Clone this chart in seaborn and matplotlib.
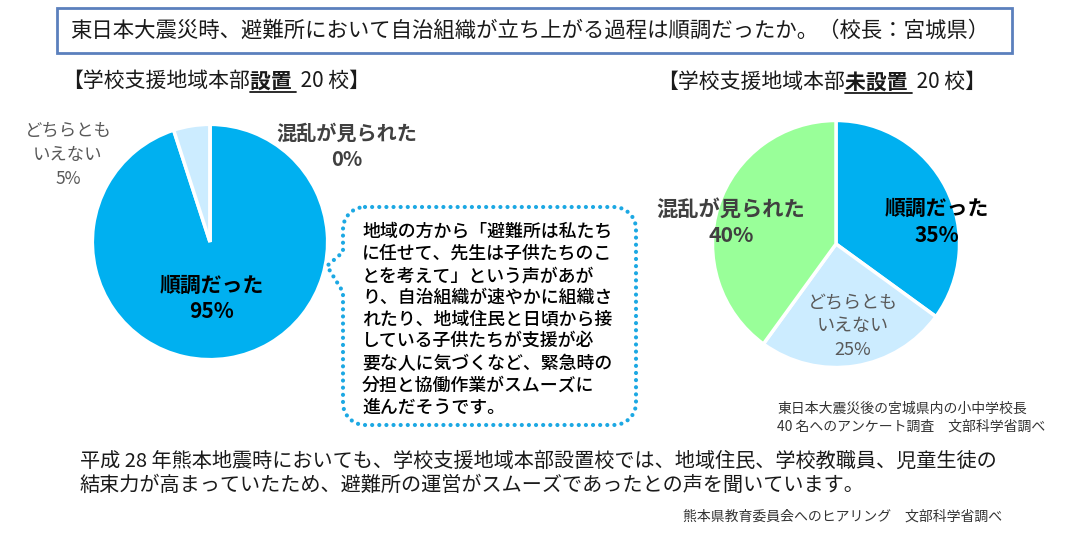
import matplotlib
matplotlib.use("Agg")
import matplotlib.pyplot as plt
import seaborn as sns
import numpy as np
from matplotlib.path import Path
from matplotlib.patches import PathPatch, Rectangle

sns.set_theme(style="white")
plt.rcParams['font.family'] = ['Noto Sans CJK JP', 'DejaVu Sans']

# ---------------- data ----------------
categories = ['順調だった', 'どちらともいえない', '混乱が見られた']
label_texts = ['順調だった', 'どちらとも\nいえない', '混乱が見られた']
set_values = [95, 5, 0]      # 学校支援地域本部 設置 20校
unset_values = [35, 25, 40]  # 学校支援地域本部 未設置 20校
colors = ['#00B0F0', '#CCECFF', '#99FF99']

title = '東日本大震災時、避難所において自治組織が立ち上がる過程は順調だったか。（校長：宮城県）'
bubble_lines = ['地域の方から「避難所は私たち',
                'に任せて、先生は子供たちのこ',
                'とを考えて」という声があが',
                'り、自治組織が速やかに組織さ',
                'れたり、地域住民と日頃から接',
                'している子供たちが支援が必',
                '要な人に気づくなど、緊急時の',
                '分担と協働作業がスムーズに',
                '進んだそうです。']
bottom_lines = ['平成 28 年熊本地震時においても、学校支援地域本部設置校では、地域住民、学校教職員、児童生徒の',
                '結束力が高まっていたため、避難所の運営がスムーズであったとの声を聞いています。']
note_right = ['東日本大震災後の宮城県内の小中学校長', '40 名へのアンケート調査　文部科学省調べ']
note_bottom = '熊本県教育委員会へのヒアリング　文部科学省調べ'

W, H = 1066, 534
fig = plt.figure(figsize=(W / 100, H / 100), dpi=100)
fig.patch.set_facecolor('white')

# overlay axes in pixel coordinates (y downwards)
ov = fig.add_axes([0, 0, 1, 1], zorder=5)
ov.set_xlim(0, W)
ov.set_ylim(H, 0)
ov.axis('off')
ov.patch.set_alpha(0)


def pie_axes(cx, cy, r):
    ax = fig.add_axes([(cx - r) / W, (H - cy - r) / H, 2 * r / W, 2 * r / H], zorder=1)
    return ax


def draw_pie(ax, values):
    ax.pie(values, colors=colors, startangle=90, counterclock=False,
           wedgeprops=dict(edgecolor='white', linewidth=2.5))
    ax.set_xlim(-1.02, 1.02)
    ax.set_ylim(-1.02, 1.02)
    ax.set_aspect('equal')
    ax.axis('off')


draw_pie(pie_axes(210, 242, 120), set_values)
draw_pie(pie_axes(836, 244, 126), unset_values)

# title box
ov.add_patch(Rectangle((57, 8), 955, 45, fill=False, edgecolor='#5B80BD', linewidth=2))
ov.text(70, 31, title, fontsize=15.4, va='center', ha='left', color='#1a1a1a')

fig.canvas.draw()
renderer = fig.canvas.get_renderer()
inv = ov.transData.inverted()


def rich(x, y, parts, size, color='#1a1a1a'):
    cur = x
    for txt, weight, ul in parts:
        t = ov.text(cur, y, txt, fontsize=size, fontweight=weight, va='center',
                    ha='left', color=color)
        bb = t.get_window_extent(renderer)
        (x0, _), (x1, _) = inv.transform([[bb.x0, bb.y0], [bb.x1, bb.y1]])
        if ul:
            ov.plot([x0, x1], [y + 11, y + 11], color=color, linewidth=1.3)
        cur = x1


rich(62, 81, [('【学校支援地域本部', 'normal', False), ('設置 ', 'bold', True),
              (' 20 校】', 'normal', False)], 15)
rich(657, 82, [('【学校支援地域本部', 'normal', False), ('未設置 ', 'bold', True),
               (' 20 校】', 'normal', False)], 15)


def lines_at(x, y0, step, lines, **kw):
    for i, ln in enumerate(lines):
        ov.text(x, y0 + i * step, ln, va='center', **kw)


# left pie labels
lines_at(212, 285, 27, [label_texts[0], f'{set_values[0]}%'], ha='center',
         fontsize=15, fontweight='bold', color='black')
lines_at(68, 131, 24, label_texts[1].split('\n') + [f'{set_values[1]}%'], ha='center',
         fontsize=12.5, color='#595959')
lines_at(347, 133, 27, [label_texts[2], f'{set_values[2]}%'], ha='center',
         fontsize=14.5, fontweight='bold', color='#404040')

# right pie labels
lines_at(937, 208, 27, [label_texts[0], f'{unset_values[0]}%'], ha='center',
         fontsize=15, fontweight='bold', color='black')
lines_at(853, 302, 24, label_texts[1].split('\n') + [f'{unset_values[1]}%'], ha='center',
         fontsize=13, color='#595959')
lines_at(731, 209, 27, [label_texts[2], f'{unset_values[2]}%'], ha='center',
         fontsize=15.3, fontweight='bold', color='#404040')

# speech bubble
x0, x1, y0, y1, r = 343, 636, 207, 425, 22
verts = []


def arc(cx, cy, a0, a1, n=12):
    for a in np.linspace(np.radians(a0), np.radians(a1), n):
        verts.append((cx + r * np.cos(a), cy + r * np.sin(a)))


verts.append((x0 + r, y0))
verts.append((x1 - r, y0))
arc(x1 - r, y0 + r, -90, 0)
verts.append((x1, y1 - r))
arc(x1 - r, y1 - r, 0, 90)
verts.append((x0 + r, y1))
arc(x0 + r, y1 - r, 90, 180)
verts.append((x0, 292))
verts.append((327, 266))
verts.append((x0, 252))
verts.append((x0, y0 + r))
arc(x0 + r, y0 + r, 180, 270)
ov.add_patch(PathPatch(Path(verts), fill=False, edgecolor='#1CA8E3', linewidth=3,
                       linestyle=(0, (0.01, 1.7)), capstyle='round'))
lines_at(362, 232, 22, bubble_lines, ha='left', fontsize=12.9, color='black',
         fontweight='medium')

# notes
lines_at(777, 409, 17.5, note_right, ha='left', fontsize=10, color='#333333')
lines_at(80, 461, 24.5, bottom_lines, ha='left', fontsize=14.5, color='#1a1a1a')
ov.text(1002, 517, note_bottom, ha='right', va='center', fontsize=10, color='#333333')

fig.savefig('out.png', dpi=100, facecolor='white')
